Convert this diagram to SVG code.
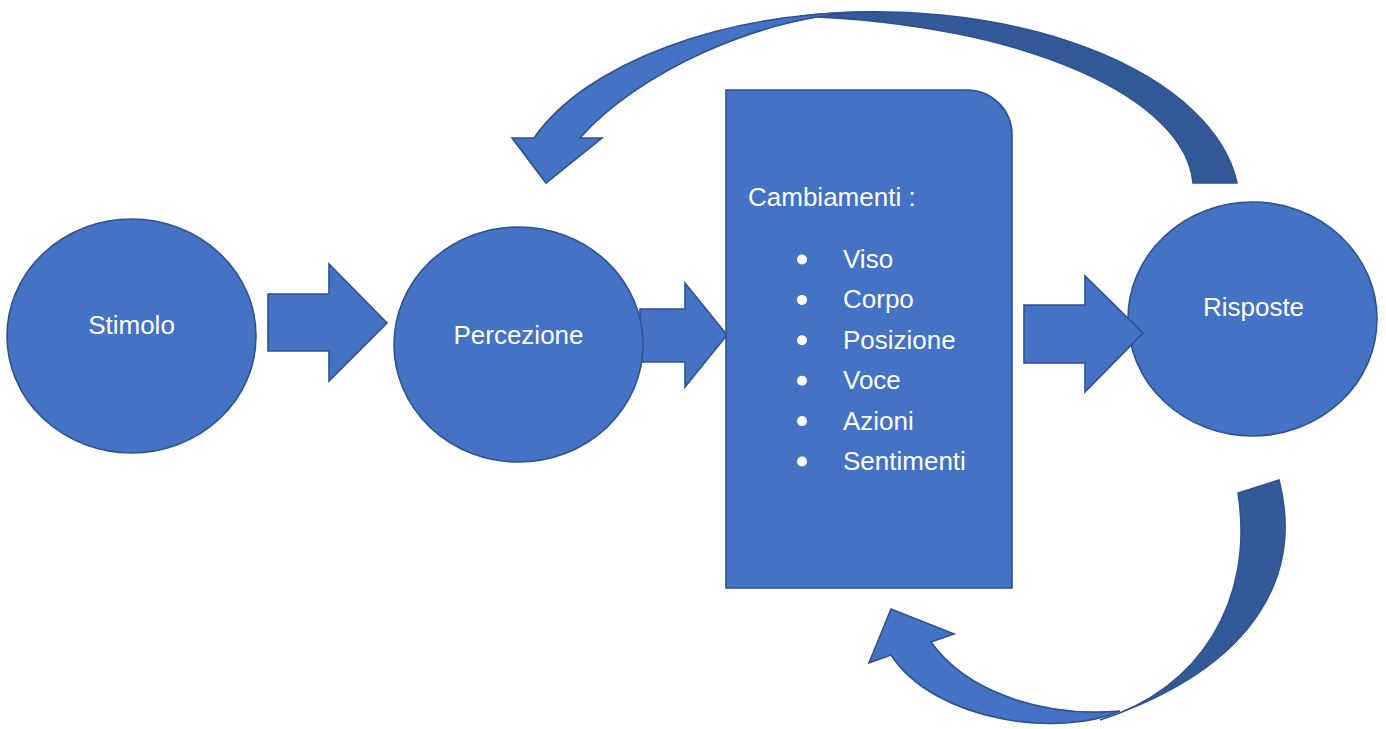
<svg xmlns="http://www.w3.org/2000/svg" width="1386" height="729" viewBox="0 0 1386 729">
<style>
.shape{fill:#4472C4;stroke:#2F528F;stroke-width:1.6;stroke-linejoin:miter}
.back{fill:#335A98;stroke:#2F528F;stroke-width:1.6}
.lbl{font-family:"Liberation Sans",Arial,sans-serif;font-size:26px;fill:#FFFFFF}
.mid{text-anchor:middle}
</style>
<rect width="1386" height="729" fill="#FFFFFF"/>
<g id="connectors">
  <path class="shape" d="M268,294 H329 V264 L387,323 L329,381 V351 H268 Z"/>
  <path class="shape" d="M640,309 H685 V283 L727,335 L685,387 V362 H640 Z"/>
  <g id="feedback-top">
    <path class="back" d="M800,16.1 A364,193 0 0 1 1237,183 L1193,183 C1186,100 1030,24 800,16.1 Z"/>
    <path class="shape" d="M534,138 A364,193 0 0 1 875,12 C760,13 635,75 580,138 L602,138 L546,183 L512,138 Z"/>
  </g>
  <g id="feedback-bottom">
    <path class="back" d="M1238,493 L1279,480 C1302,570 1262,665 1100,720 C1200,690 1255,600 1238,493 Z"/>
    <path class="shape" d="M891,655 L869,663 L891,609 L954,634 L931,642 C965,690 1040,718 1120,711 C1060,738 935,722 891,655 Z"/>
  </g>
</g>
<g id="stimolo">
  <ellipse class="shape" cx="131.5" cy="336" rx="124.5" ry="117"/>
  <text class="lbl mid" x="131.5" y="334">Stimolo</text>
</g>
<g id="percezione">
  <ellipse class="shape" cx="518.5" cy="344.5" rx="124.5" ry="117.5"/>
  <text class="lbl mid" x="518.5" y="344">Percezione</text>
</g>
<g id="cambiamenti">
  <path class="shape" d="M726,90 H967 A45,45 0 0 1 1012,135 V588 H726 Z"/>
  <text class="lbl" x="748" y="206">Cambiamenti :</text>
  <g fill="#FFFFFF">
    <circle cx="802" cy="259.5" r="5"/>
    <circle cx="802" cy="299.9" r="5"/>
    <circle cx="802" cy="340.3" r="5"/>
    <circle cx="802" cy="380.7" r="5"/>
    <circle cx="802" cy="421.1" r="5"/>
    <circle cx="802" cy="461.5" r="5"/>
  </g>
  <text class="lbl" x="843" y="268">Viso</text>
  <text class="lbl" x="843" y="308.4">Corpo</text>
  <text class="lbl" x="843" y="348.8">Posizione</text>
  <text class="lbl" x="843" y="389.2">Voce</text>
  <text class="lbl" x="843" y="429.6">Azioni</text>
  <text class="lbl" x="843" y="470">Sentimenti</text>
</g>
<g id="risposte">
  <ellipse class="shape" cx="1252.5" cy="319" rx="124.5" ry="117"/>
  <text class="lbl mid" x="1253.5" y="316">Risposte</text>
</g>
<g id="arrow-to-risposte">
  <path class="shape" d="M1024,305 H1085 V276 L1143,333 L1085,392 V363 H1024 Z"/>
</g>
</svg>
